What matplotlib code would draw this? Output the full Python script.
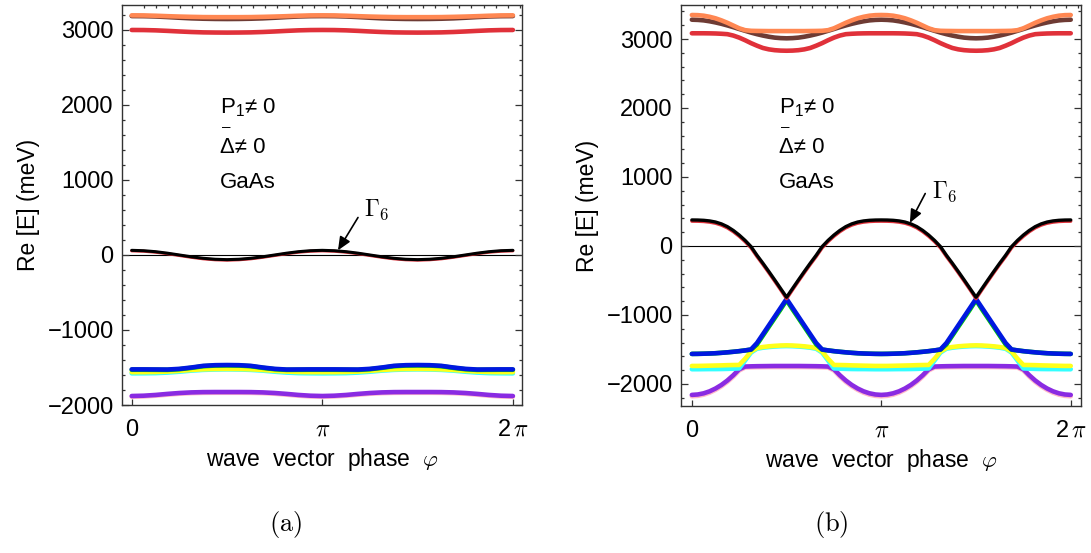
import numpy as np
import matplotlib
matplotlib.use("Agg")
import matplotlib.pyplot as plt
from matplotlib.ticker import MultipleLocator

plt.rcParams['font.family'] = ['Liberation Sans', 'DejaVu Sans']
plt.rcParams['mathtext.fontset'] = 'custom'
plt.rcParams['mathtext.rm'] = 'Liberation Sans'
plt.rcParams['mathtext.it'] = 'Liberation Sans:italic'

# Bands are pi-periodic: values are read for phi = 0..pi and repeated for pi..2pi
def full(half):
    return list(half) + list(half[1:])

# ---------------- panel (a) values, meV, phi = k*pi/16, k = 0..16 ----------------
a_orange = [3195, 3194, 3190, 3184, 3179, 3175, 3172, 3171, 3171, 3171, 3172, 3175, 3179, 3184, 3190, 3194, 3195]
a_brown  = [3185, 3184, 3180, 3172, 3163, 3155, 3150, 3147, 3146, 3147, 3150, 3155, 3163, 3172, 3180, 3184, 3185]
a_red    = [3000, 2999, 2995, 2988, 2980, 2973, 2968, 2966, 2965, 2966, 2968, 2973, 2980, 2988, 2995, 2999, 3000]
a_gamma  = [62, 57, 44, 24, 0, -24, -44, -57, -62, -57, -44, -24, 0, 24, 44, 57, 62]
a_gred   = [55, 50, 37, 17, -7, -31, -51, -64, -69, -64, -51, -31, -7, 17, 37, 50, 55]
a_blue   = [-1525, -1525, -1526, -1527, -1518, -1500, -1478, -1469, -1467, -1469, -1478, -1500, -1518, -1527, -1526, -1525, -1525]
a_green  = [-1530, -1530, -1531, -1532, -1523, -1505, -1483, -1474, -1472, -1474, -1483, -1505, -1523, -1532, -1531, -1530, -1530]
a_yellow = [-1562, -1562, -1560, -1555, -1545, -1533, -1524, -1520, -1519, -1520, -1524, -1533, -1545, -1555, -1560, -1562, -1562]
a_cyan   = [-1578, -1577, -1575, -1568, -1556, -1542, -1532, -1527, -1525, -1527, -1532, -1542, -1556, -1568, -1575, -1577, -1578]
a_purple = [-1880, -1876, -1866, -1852, -1840, -1832, -1828, -1827, -1827, -1827, -1828, -1832, -1840, -1852, -1866, -1876, -1880]
a_pink   = [-1890, -1886, -1876, -1862, -1850, -1842, -1838, -1837, -1837, -1837, -1838, -1842, -1850, -1862, -1876, -1886, -1890]

# ---------------- panel (b) values, meV, phi = j*pi/32, j = 0..32 ----------------
b_orange = [3348, 3346, 3338, 3322, 3300, 3270, 3235, 3195, 3155, 3128, 3119, 3117, 3116, 3115, 3115, 3115, 3115,
            3115, 3115, 3115, 3116, 3117, 3119, 3128, 3155, 3195, 3235, 3270, 3300, 3322, 3338, 3346, 3348]
b_brown  = [3280, 3277, 3270, 3257, 3240, 3220, 3197, 3172, 3145, 3119, 3093, 3070, 3050, 3033, 3020, 3013, 3010,
            3013, 3020, 3033, 3050, 3070, 3093, 3119, 3145, 3172, 3197, 3220, 3240, 3257, 3270, 3277, 3280]
b_red    = [3083, 3083, 3083, 3082, 3080, 3076, 3070, 3050, 3020, 2982, 2940, 2903, 2870, 2850, 2838, 2832, 2830,
            2832, 2838, 2850, 2870, 2903, 2940, 2982, 3020, 3050, 3070, 3076, 3080, 3082, 3083, 3083, 3083]
b_gamma  = [377, 376, 372, 363, 347, 320, 280, 225, 158, 80, -10, -135, -250, -370, -493, -618, -743,
            -618, -493, -370, -250, -135, -10, 80, 158, 225, 280, 320, 347, 363, 372, 376, 377]
b_gred   = [359, 358, 354, 345, 329, 302, 262, 207, 140, 62, -28, -153, -268, -388, -511, -636, -765,
            -636, -511, -388, -268, -153, -28, 62, 140, 207, 262, 302, 329, 345, 354, 358, 359]
b_blue   = [-1565, -1564, -1562, -1559, -1555, -1549, -1542, -1534, -1525, -1514, -1500, -1407, -1280, -1152, -1024, -896, -768,
            -896, -1024, -1152, -1280, -1407, -1500, -1514, -1525, -1534, -1542, -1549, -1555, -1559, -1562, -1564, -1565]
b_green  = [-1565, -1564, -1562, -1559, -1555, -1549, -1542, -1534, -1525, -1514, -1503, -1427, -1300, -1172, -1045, -918, -785,
            -918, -1045, -1172, -1300, -1427, -1503, -1514, -1525, -1534, -1542, -1549, -1555, -1559, -1562, -1564, -1565]
b_yellow = [-1739, -1739, -1737, -1735, -1733, -1731, -1728, -1726, -1725, -1634, -1530, -1480, -1465, -1455, -1448, -1443, -1441,
            -1443, -1448, -1455, -1465, -1480, -1530, -1634, -1725, -1726, -1728, -1731, -1733, -1735, -1737, -1739, -1739]
b_cyan   = [-1787, -1787, -1786, -1785, -1785, -1784, -1782, -1779, -1775, -1660, -1545, -1490, -1475, -1465, -1458, -1453, -1451,
            -1453, -1458, -1465, -1475, -1490, -1545, -1660, -1775, -1779, -1782, -1784, -1785, -1785, -1786, -1787, -1787]
b_purple = [-2159, -2153, -2136, -2107, -2066, -2014, -1950, -1874, -1787, -1748, -1745, -1743, -1742, -1741, -1740, -1740, -1740,
            -1740, -1740, -1741, -1742, -1743, -1745, -1748, -1787, -1874, -1950, -2014, -2066, -2107, -2136, -2153, -2159]
b_pink   = [-2179, -2173, -2156, -2127, -2086, -2034, -1970, -1894, -1805, -1762, -1759, -1757, -1756, -1755, -1755, -1755, -1755,
            -1755, -1755, -1755, -1756, -1757, -1759, -1762, -1805, -1894, -1970, -2034, -2086, -2127, -2156, -2173, -2179]

y_ticks = [-2000, -1000, 0, 1000, 2000, 3000]
y_ticklabels = ['\u22122000', '\u22121000', '0', '1000', '2000', '3000']
x_ticks = [0, np.pi, 2 * np.pi]
x_ticklabels = ['0', r'$\pi$', r'2$\,\pi$']
panel_labels = ['(a)', '(b)']

C = dict(orange='#ff8752', brown='#6e3b34', red='#e0313a', black='black',
         blue='#0018e0', green='#00d000', yellow='#ffff1a', cyan='#33ffff',
         purple='#8a2be2', pink='#ffb8c8')

fig = plt.figure(figsize=(10.91, 5.53), dpi=100)
axA = fig.add_axes([122 / 1091, 1 - 405 / 553, 400 / 1091, 400 / 553])
axB = fig.add_axes([681 / 1091, 1 - 406 / 553, 400 / 1091, 401 / 553])

def draw(ax, d, lw_band, lw_g):
    n = len(d['blue'])
    ph = np.linspace(0, 2 * np.pi, 2 * n - 1)
    order = ['pink', 'purple', 'cyan', 'yellow', 'green', 'blue', 'red', 'brown', 'orange']
    for c in order:
        ax.plot(ph, full(d[c]), color=C[c], lw=lw_band, solid_capstyle='round', solid_joinstyle='round')
    for key, col in [('gred', 'red'), ('gamma', 'black')]:
        ax.plot(ph, full(d[key]), color=C[col], lw=lw_g, solid_capstyle='round', solid_joinstyle='round')
    ax.axhline(0, color='black', lw=0.8, zorder=1)

dA = dict(orange=a_orange, brown=a_brown, red=a_red, gamma=a_gamma, gred=a_gred,
          blue=a_blue, green=a_green, yellow=a_yellow, cyan=a_cyan, purple=a_purple, pink=a_pink)
dB = dict(orange=b_orange, brown=b_brown, red=b_red, gamma=b_gamma, gred=b_gred,
          blue=b_blue, green=b_green, yellow=b_yellow, cyan=b_cyan, purple=b_purple, pink=b_pink)

draw(axA, dA, 3.3, 2.2)
draw(axB, dB, 3.3, 2.4)

axA.set_xlim(-0.16, 2 * np.pi + 0.15)
axA.set_ylim(-2000, 3333)
axB.set_xlim(-0.18, 2 * np.pi + 0.17)
axB.set_ylim(-2320, 3493)

for i, ax in enumerate([axA, axB]):
    ax.set_yticks(y_ticks, labels=y_ticklabels)
    ax.set_xticks(x_ticks, labels=x_ticklabels, math_fontfamily='cm')
    ax.yaxis.set_minor_locator(MultipleLocator(200))
    ax.xaxis.set_minor_locator(MultipleLocator(0.2))
    ax.tick_params(axis='both', which='both', direction='in', labelsize=17, width=0.9, color='#333333')
    ax.tick_params(axis='y', which='major', length=5, left=True, right=True, pad=6)
    ax.tick_params(axis='y', which='minor', length=2.5, left=True, right=True)
    ax.tick_params(axis='x', which='major', length=4, bottom=True, top=False, pad=10)
    ax.tick_params(axis='x', which='minor', length=2.5, bottom=False, top=True)
    for s in ax.spines.values():
        s.set_linewidth(1.0)
        s.set_color('#333333')
    ax.set_ylabel('Re [E] (meV)', fontsize=16.5, labelpad=5)
    ax.set_xlabel('wave  vector  phase  $\\varphi$', fontsize=16.5, labelpad=4, math_fontfamily='cm')
    tx = 0.245
    ax.text(tx, 0.73, 'P$_1$\u2260 0', transform=ax.transAxes, fontsize=16, va='baseline', ha='left',
            math_fontfamily='custom')
    ax.text(tx, 0.63, '\u0394\u2260 0', transform=ax.transAxes, fontsize=16, va='baseline', ha='left')
    ax.text(tx + 0.004, 0.685, '\u2013', transform=ax.transAxes, fontsize=11, va='baseline', ha='left')
    ax.text(tx, 0.5425, 'GaAs', transform=ax.transAxes, fontsize=16, va='baseline', ha='left')
    fig.text([286 / 1091, 831 / 1091][i], 1 - 525 / 553, r'$\mathrm{' + panel_labels[i] + '}$',
             fontsize=19, ha='center', va='center', math_fontfamily='cm')

arrow = dict(arrowstyle='-|>,head_length=0.8,head_width=0.35', color='black', lw=1.2, shrinkA=0, shrinkB=0)
axA.annotate('', xy=(3.40, 62), xytext=(3.73, 500), arrowprops=arrow)
axA.text(3.83, 600, r'$\Gamma_6$', fontsize=17, ha='left', va='center', math_fontfamily='cm')
axB.annotate('', xy=(3.615, 335), xytext=(3.87, 760), arrowprops=arrow)
axB.text(3.98, 790, r'$\Gamma_6$', fontsize=17, ha='left', va='center', math_fontfamily='cm')

fig.savefig('out.png', dpi=100)
